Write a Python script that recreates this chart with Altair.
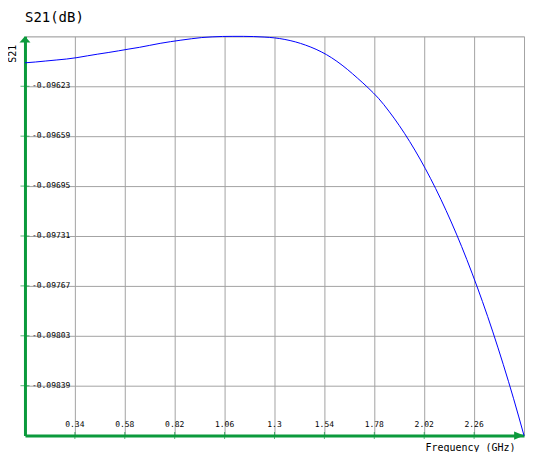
import altair as alt
import pandas as pd

# ---- data ----
freq_ghz = [0.10, 0.15, 0.20, 0.25, 0.30, 0.35, 0.40, 0.45, 0.50, 0.55,
            0.60, 0.65, 0.70, 0.75, 0.80, 0.85, 0.90, 0.95, 1.00, 1.05,
            1.10, 1.15, 1.20, 1.25, 1.30, 1.35, 1.40, 1.45, 1.50, 1.55,
            1.60, 1.65, 1.70, 1.75, 1.80, 1.85, 1.90, 1.95, 2.00, 2.05,
            2.10, 2.15, 2.20, 2.25, 2.30, 2.35, 2.40, 2.45, 2.50]
s21_db = [-0.0960608, -0.0960550, -0.0960478, -0.0960406, -0.0960334,
          -0.0960234, -0.0960104, -0.0959982, -0.0959866, -0.0959744,
          -0.0959614, -0.0959492, -0.0959348, -0.0959204, -0.0959082,
          -0.0958974, -0.0958873, -0.0958786, -0.0958736, -0.0958707,
          -0.0958700, -0.0958700, -0.0958714, -0.0958750, -0.0958808,
          -0.0958923, -0.0959096, -0.0959334, -0.0959636, -0.0960018,
          -0.0960500, -0.0961076, -0.0961724, -0.0962408, -0.0963164,
          -0.0964093, -0.0965130, -0.0966282, -0.0967549, -0.0968938,
          -0.0970450, -0.0972092, -0.0973863, -0.0975778, -0.0977823,
          -0.0980019, -0.0982359, -0.0984843, -0.0987500]

x_tick_values = [0.34, 0.58, 0.82, 1.06, 1.3, 1.54, 1.78, 2.02, 2.26]
x_tick_labels = ["0.34", "0.58", "0.82", "1.06", "1.3", "1.54", "1.78", "2.02", "2.26"]
y_tick_values = [-0.09623, -0.09659, -0.09695, -0.09731, -0.09767, -0.09803, -0.09839]
y_tick_labels = ["-0.09623", "-0.09659", "-0.09695", "-0.09731", "-0.09767", "-0.09803", "-0.09839"]

x_domain = [0.10, 2.50]
y_domain = [-0.09875, -0.09587]
x_grid = x_tick_values + [2.50]
y_grid = y_tick_values + [-0.09587]

GREEN = "#0b9a3c"
GRID = "#a3a3a3"
FONT = "DejaVu Sans Mono"

curve = pd.DataFrame({"f": freq_ghz, "s": s21_db})
xt = pd.DataFrame({"f": x_tick_values, "label": x_tick_labels, "s": [y_domain[0]] * len(x_tick_values)})
yt = pd.DataFrame({"s": y_tick_values, "label": y_tick_labels, "f": [x_domain[0]] * len(y_tick_values)})
arrow_up = pd.DataFrame({"f": [x_domain[0]], "s": [y_domain[1]]})
arrow_right = pd.DataFrame({"f": [x_domain[1]], "s": [y_domain[0]]})

xs = alt.Scale(domain=x_domain, nice=False, zero=False)
ys = alt.Scale(domain=y_domain, nice=False, zero=False)

x_axis = alt.Axis(values=x_grid, grid=True, gridColor=GRID, gridWidth=1,
                  labels=False, ticks=False, domain=True, domainColor=GREEN,
                  domainWidth=3, title="Frequency (GHz)", titleFont=FONT,
                  titleFontSize=10, titleFontWeight="normal", titleColor="black",
                  titleX=491, titleY=12, titleAlign="right", titleBaseline="middle")
y_axis = alt.Axis(values=y_grid, grid=True, gridColor=GRID, gridWidth=1,
                  labels=False, ticks=False, domain=True, domainColor=GREEN,
                  domainWidth=3, title="S21", titleFont=FONT, titleFontSize=10,
                  titleFontWeight="normal", titleColor="black", titleAngle=270,
                  titleX=-12, titleY=17, titleAlign="center", titleBaseline="middle")

line = alt.Chart(curve).mark_line(color="#0000ff", strokeWidth=1, interpolate="monotone").encode(
    x=alt.X("f:Q", scale=xs, axis=x_axis),
    y=alt.Y("s:Q", scale=ys, axis=y_axis),
)

xticks = alt.Chart(xt).mark_tick(orient="vertical", color=GREEN, size=7, thickness=1).encode(
    x=alt.X("f:Q", scale=xs), y=alt.Y("s:Q", scale=ys))
yticks = alt.Chart(yt).mark_tick(orient="horizontal", color=GREEN, size=9, thickness=1).encode(
    x=alt.X("f:Q", scale=xs), y=alt.Y("s:Q", scale=ys))

xlabels = alt.Chart(xt).mark_text(font=FONT, fontSize=8, color="black", align="center",
                                  baseline="middle", dy=-11).encode(
    x=alt.X("f:Q", scale=xs), y=alt.Y("s:Q", scale=ys), text="label:N")
ylabels = alt.Chart(yt).mark_text(font=FONT, fontSize=8, color="black", align="left",
                                  baseline="middle", dx=7).encode(
    x=alt.X("f:Q", scale=xs), y=alt.Y("s:Q", scale=ys), text="label:N")

up = alt.Chart(arrow_up).mark_point(shape="M0,0L1,1.1L-1,1.1Z", filled=True, opacity=1,
                                    color=GREEN, size=121, strokeWidth=0).encode(
    x=alt.X("f:Q", scale=xs), y=alt.Y("s:Q", scale=ys))
right = alt.Chart(arrow_right).mark_point(shape="M0,0L-1.8,-0.75L-1.8,0.75Z", filled=True, opacity=1,
                                          color=GREEN, size=121, strokeWidth=0).encode(
    x=alt.X("f:Q", scale=xs), y=alt.Y("s:Q", scale=ys))

chart = alt.layer(xticks, yticks, xlabels, ylabels, up, right, line).properties(
    width=500, height=400,
    autosize=alt.AutoSizeParams(type="none"),
    padding={"left": 17, "top": 28, "right": 10, "bottom": 16},
    title=alt.TitleParams("S21(dB)", anchor="start", font=FONT, fontSize=14,
                          fontWeight="normal", color="black", frame="group",
                          baseline="alphabetic", offset=-2),
).configure_view(stroke=None).configure(background="white")

chart.save("out.html", embed_options={"renderer": "svg", "actions": False})
